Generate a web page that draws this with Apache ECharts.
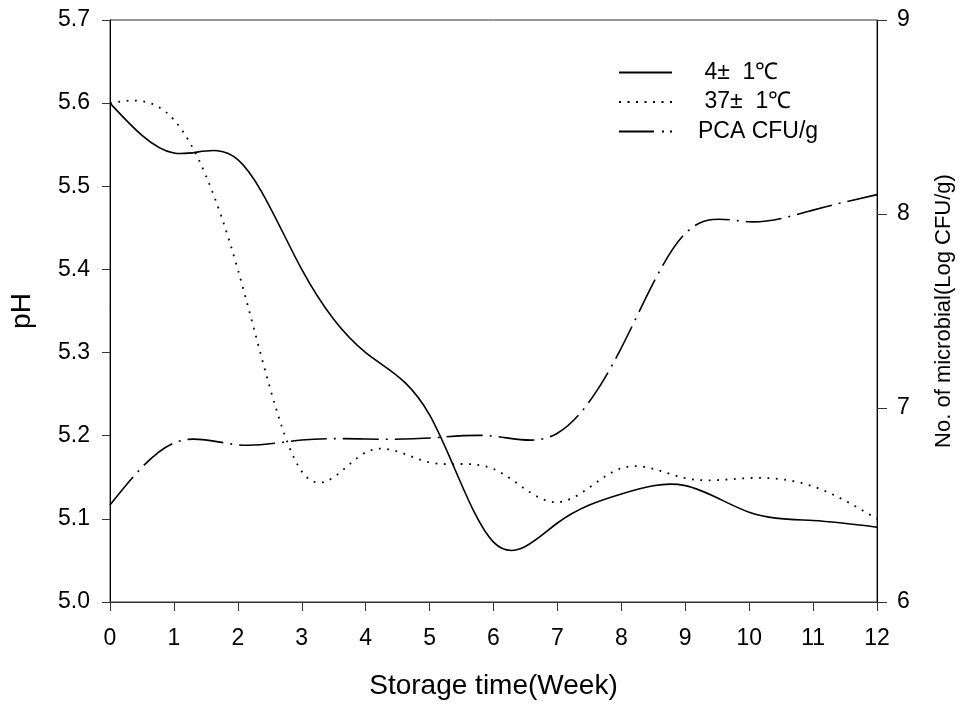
<!DOCTYPE html>
<html>
<head>
<meta charset="utf-8">
<script src="https://cdn.jsdelivr.net/npm/echarts@6/dist/echarts.min.js"></script>
<style>html,body{margin:0;padding:0;background:#fff}#c{width:960px;height:707px}</style>
</head>
<body>
<div id="c"></div>
<script>
// Data
const weeks = [0, 1, 2, 3, 4, 5, 6, 7, 8, 9, 10, 11, 12];
const ph4 = [5.60, 5.54, 5.532, 5.40, 5.30, 5.225, 5.072, 5.095, 5.13, 5.14, 5.108, 5.098, 5.09];
const ph37 = [5.60, 5.58, 5.40, 5.157, 5.18, 5.168, 5.16, 5.12, 5.161, 5.149, 5.149, 5.139, 5.10];
const pca = [6.50, 6.82, 6.81, 6.835, 6.84, 6.845, 6.855, 6.87, 7.31, 7.90, 7.96, 8.02, 8.10];
const seriesNames = [' 4\u00b1  1\u2103', ' 37\u00b1  1\u2103', 'PCA CFU/g'];
const leftTicks = { min: 5.0, max: 5.7, interval: 0.1 };
const rightTicks = { min: 6, max: 9, interval: 1 };
const xTicks = { min: 0, max: 12, interval: 1 };

const FONT = 'Liberation Sans, Arial, sans-serif';
const pair = (xs, ys) => xs.map((x, i) => [x, ys[i]]);

// Natural cubic spline slopes at the nodes (used only to shape the drawn curve)
function nodeSlopes(xs, ys) {
  const n = xs.length;
  const h = [], a = [], b = [], c = [], r = [];
  for (let i = 0; i < n - 1; i++) h.push(xs[i + 1] - xs[i]);
  const M = new Array(n).fill(0);
  const m = n - 2;
  for (let i = 1; i <= m; i++) {
    a.push(h[i - 1]); b.push(2 * (h[i - 1] + h[i])); c.push(h[i]);
    r.push(6 * ((ys[i + 1] - ys[i]) / h[i] - (ys[i] - ys[i - 1]) / h[i - 1]));
  }
  for (let i = 1; i < m; i++) {
    const w = a[i] / b[i - 1];
    b[i] -= w * c[i - 1]; r[i] -= w * r[i - 1];
  }
  const sol = new Array(m).fill(0);
  for (let i = m - 1; i >= 0; i--) sol[i] = (r[i] - (i < m - 1 ? c[i] * sol[i + 1] : 0)) / b[i];
  for (let i = 1; i <= m; i++) M[i] = sol[i - 1];
  const d = [];
  for (let i = 0; i < n - 1; i++) d.push((ys[i + 1] - ys[i]) / h[i] - h[i] * (2 * M[i] + M[i + 1]) / 6);
  d.push((ys[n - 1] - ys[n - 2]) / h[n - 2] + h[n - 2] * (M[n - 2] + 2 * M[n - 1]) / 6);
  return d;
}

function curveSeries(name, ys, axisIndex, lineStyle) {
  const slopes = nodeSlopes(weeks, ys);
  return {
    name: name,
    type: 'custom',
    coordinateSystem: 'cartesian2d',
    yAxisIndex: axisIndex,
    clip: false,
    encode: { x: 0, y: 1 },
    data: pair(weeks, ys),
    renderItem: function (params, api) {
      if (params.dataIndex !== 0) return null;
      const p0 = api.coord([weeks[0], ys[0]]);
      let d = 'M' + p0[0] + ' ' + p0[1];
      for (let i = 0; i < weeks.length - 1; i++) {
        const h = weeks[i + 1] - weeks[i];
        const c1 = api.coord([weeks[i] + h / 3, ys[i] + slopes[i] * h / 3]);
        const c2 = api.coord([weeks[i + 1] - h / 3, ys[i + 1] - slopes[i + 1] * h / 3]);
        const p = api.coord([weeks[i + 1], ys[i + 1]]);
        d += 'C' + c1[0] + ' ' + c1[1] + ' ' + c2[0] + ' ' + c2[1] + ' ' + p[0] + ' ' + p[1];
      }
      return {
        type: 'path',
        shape: { pathData: d },
        style: Object.assign({ stroke: '#000', fill: 'none' }, lineStyle)
      };
    }
  };
}

// legend sample shapes (filled paths)
const solidIcon = 'path://M0,0h53v2h-53z';
const dotIcon = 'path://' + [0, 8.5, 17, 25.5, 34, 42.5, 51].map(x => 'M' + x + ',0h2v2h-2z').join('');
const dashDotIcon = 'path://M0,0h35v2h-35zM43,0h2v2h-2zM51,0h2v2h-2z';

const chart = echarts.init(document.getElementById('c'), null, { renderer: 'canvas' });
chart.setOption({
  animation: false,
  backgroundColor: '#fff',
  textStyle: { fontFamily: FONT, color: '#000' },
  grid: { left: 110, right: 83, top: 20, bottom: 105, show: true, borderColor: '#333', borderWidth: 1, containLabel: false, outerBoundsMode: 'none' },
  legend: {
    orient: 'vertical',
    left: 614,
    top: 56,
    itemWidth: 53,
    itemHeight: 2,
    itemGap: 6.5,
    symbolKeepAspect: true,
    textStyle: { fontFamily: FONT, fontSize: 23, color: '#000', padding: [0, 0, 0, 21], lineHeight: 22 },
    data: [
      { name: seriesNames[0], icon: solidIcon, itemStyle: { color: '#000' } },
      { name: seriesNames[1], icon: dotIcon, itemStyle: { color: '#000' } },
      { name: seriesNames[2], icon: dashDotIcon, itemStyle: { color: '#000' } }
    ]
  },
  xAxis: {
    type: 'value',
    min: xTicks.min, max: xTicks.max, interval: xTicks.interval,
    name: 'Storage time(Week)',
    nameLocation: 'middle',
    nameGap: 70,
    nameTextStyle: { fontFamily: FONT, fontSize: 28, color: '#000' },
    axisLine: { show: true, onZero: false, lineStyle: { color: '#333', width: 1 } },
    axisTick: { show: true, inside: false, length: 9, lineStyle: { color: '#333' } },
    axisLabel: { margin: 25, fontFamily: FONT, fontSize: 23, color: '#000' },
    splitLine: { show: false }
  },
  yAxis: [
    {
      type: 'value', position: 'left',
      min: leftTicks.min, max: leftTicks.max, interval: leftTicks.interval,
      name: 'pH',
      nameLocation: 'middle',
      nameGap: 74,
      nameTextStyle: { fontFamily: FONT, fontSize: 28, color: '#000' },
      axisLine: { show: true, onZero: false, lineStyle: { color: '#000', width: 1 } },
      axisTick: { show: true, inside: false, length: 8, lineStyle: { color: '#333' } },
      axisLabel: { margin: 20, fontFamily: FONT, fontSize: 23, color: '#000', formatter: v => v.toFixed(1) },
      splitLine: { show: false }
    },
    {
      type: 'value', position: 'right',
      min: rightTicks.min, max: rightTicks.max, interval: rightTicks.interval,
      name: 'No. of microbial(Log CFU/g)',
      nameLocation: 'middle',
      nameGap: 56,
      nameTextStyle: { fontFamily: FONT, fontSize: 22, color: '#000' },
      axisLine: { show: true, onZero: false, lineStyle: { color: '#000', width: 1 } },
      axisTick: { show: true, inside: false, length: 10, lineStyle: { color: '#333' } },
      axisLabel: { margin: 20, fontFamily: FONT, fontSize: 23, color: '#000' },
      splitLine: { show: false }
    }
  ],
  series: [
    curveSeries(seriesNames[0], ph4, 0, { lineWidth: 1.6 }),
    curveSeries(seriesNames[1], ph37, 0, { lineWidth: 1.8, lineDash: [1.8, 6.6] }),
    curveSeries(seriesNames[2], pca, 1, { lineWidth: 1.6, lineDash: [36, 7, 2, 7] })
  ]
});
</script>
</body>
</html>
